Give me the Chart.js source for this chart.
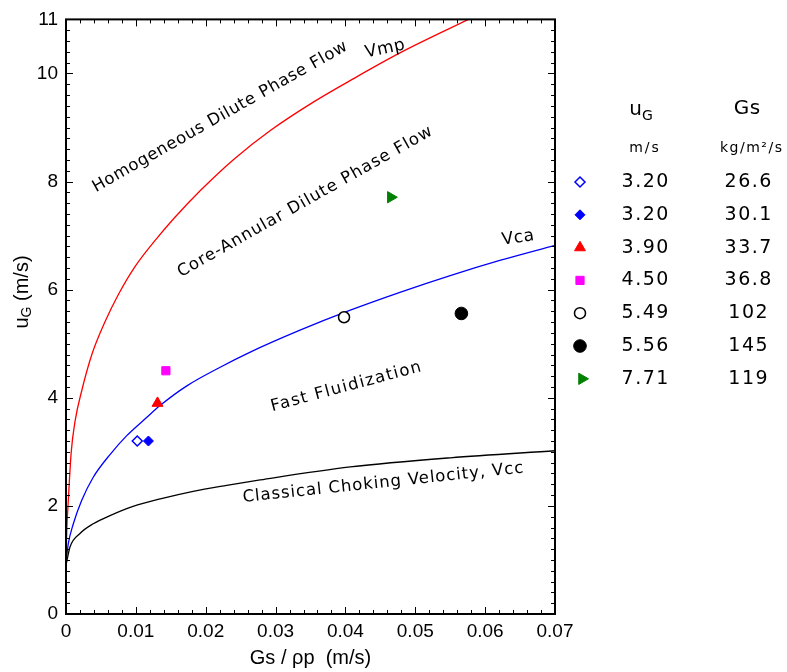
<!DOCTYPE html>
<html>
<head>
<meta charset="utf-8">
<script src="https://cdn.jsdelivr.net/npm/chart.js@4.4.1/dist/chart.umd.min.js"></script>
<style>
  html, body { margin: 0; padding: 0; background: #fff; }
  #wrap { width: 787px; height: 672px; position: relative; }
</style>
</head>
<body>
<div id="wrap"><canvas id="myChart"></canvas></div>
<script>
// boundary curves (x = Gs/rho_p, y = uG)
const vmpX = [0, 0.0001, 0.00033, 0.00075, 0.0013, 0.00225, 0.0037, 0.0056, 0.0075, 0.0099, 0.013, 0.0156, 0.0192, 0.024, 0.0292, 0.0354, 0.0411, 0.0478, 0.0576];
const vmpY = [0.9, 1.5, 2.1, 3.0, 3.57, 4.13, 4.80, 5.41, 5.91, 6.43, 6.95, 7.34, 7.83, 8.41, 8.94, 9.47, 9.90, 10.38, 11.0];

const vcaX = [0, 0.00033, 0.00105, 0.00224, 0.0039, 0.0063, 0.0087, 0.0115, 0.0135, 0.0173, 0.022, 0.0263, 0.0335, 0.0407, 0.0478, 0.055, 0.0621, 0.07];
const vcaY = [0.95, 1.30, 1.67, 2.10, 2.53, 2.95, 3.30, 3.63, 3.86, 4.22, 4.56, 4.84, 5.25, 5.62, 5.95, 6.26, 6.54, 6.82];

const vccX = [0, 0.00057, 0.002, 0.0039, 0.0063, 0.0096, 0.0135, 0.0182, 0.023, 0.0278, 0.0407, 0.055, 0.07];
const vccY = [0.9, 1.24, 1.49, 1.67, 1.82, 1.99, 2.13, 2.27, 2.38, 2.48, 2.72, 2.89, 3.02];

// experimental points
const pointX = [0.0102, 0.0118, 0.0131, 0.0143, 0.0398, 0.0566, 0.0465];
const pointY = [3.20, 3.20, 3.90, 4.50, 5.49, 5.56, 7.71];
const ugLabels = ['3.20', '3.20', '3.90', '4.50', '5.49', '5.56', '7.71'];
const gsLabels = ['26.6', '30.1', '33.7', '36.8', '102', '145', '119'];

const xTicks = [0, 0.01, 0.02, 0.03, 0.04, 0.05, 0.06, 0.07];
const xTickLabels = ['0', '0.01', '0.02', '0.03', '0.04', '0.05', '0.06', '0.07'];
const yTicks = [0, 2, 4, 6, 8, 10, 11];
const yTickLabels = ['0', '2', '4', '6', '8', '10', '11'];

// marker look for each point, same order as pointX
const markers = [
  { style: 'rectRot', color: '#0000ff', open: true, radius: 5 },
  { style: 'rectRot', color: '#0000ff', open: false, radius: 5 },
  { style: 'triangle', color: '#ff0000', open: false, radius: 6.3 },
  { style: 'rect', color: '#ff00ff', open: false, radius: 5.8 },
  { style: 'circle', color: '#000000', open: true, radius: 5.5 },
  { style: 'circle', color: '#000000', open: false, radius: 6.3 },
  { style: 'triangle', color: '#008000', open: false, radius: 6.5, rotation: 90 }
];

const regionLabels = [
  { text: 'Homogeneous Dilute Phase Flow', x: 220, y: 117, angle: -29.5, size: 16.5, length: 290 },
  { text: 'Core-Annular Dilute Phase Flow', x: 305, y: 202, angle: -29.5, size: 16.5, length: 290 },
  { text: 'Vmp', x: 385, y: 49, angle: -12, size: 17 },
  { text: 'Vca', x: 518, y: 238, angle: -8, size: 17 },
  { text: 'Fast Fluidization', x: 346, y: 387, angle: -15, size: 16.5, length: 155 },
  { text: 'Classical Choking Velocity, Vcc', x: 383, y: 483, angle: -6, size: 16.5, length: 282 }
];

const toXY = (xs, ys) => xs.map((x, i) => ({ x: x, y: ys[i] }));

const pointSets = markers.map((m, i) => ({
  data: [{ x: pointX[i], y: pointY[i] }],
  pointStyle: m.style,
  pointRotation: m.rotation || 0,
  pointRadius: m.radius,
  pointHoverRadius: m.radius,
  pointBackgroundColor: m.open ? '#ffffff' : m.color,
  pointBorderColor: m.color,
  pointBorderWidth: m.open ? 1.5 : 1,
  order: 0
}));

function curve(xs, ys, color) {
  return {
    data: toXY(xs, ys),
    showLine: true,
    borderColor: color,
    borderWidth: 1.3,
    pointRadius: 0,
    cubicInterpolationMode: 'monotone',
    fill: false,
    order: 1
  };
}

function drawMarker(ctx, m, x, y) {
  ctx.save();
  ctx.fillStyle = m.open ? '#ffffff' : m.color;
  ctx.strokeStyle = m.color;
  ctx.lineWidth = m.open ? 1.5 : 1;
  Chart.helpers.drawPoint(ctx, {
    pointStyle: m.style, rotation: m.rotation || 0, radius: m.radius, borderWidth: ctx.lineWidth
  }, x, y);
  ctx.restore();
}

function drawSpaced(ctx, text, cx, cy, spacing) {
  ctx.letterSpacing = spacing + 'px';
  const w = ctx.measureText(text).width - spacing;
  ctx.textAlign = 'left';
  ctx.fillText(text, cx - w / 2, cy);
  ctx.letterSpacing = '0px';
}

const framePlugin = {
  id: 'frame',
  afterDatasetsDraw(chart) {
    const ctx = chart.ctx;
    const a = chart.chartArea;
    const xs = chart.scales.x, ys = chart.scales.y;
    ctx.save();
    ctx.strokeStyle = '#000';
    ctx.lineWidth = 1;
    ctx.beginPath();
    for (let k = 0; k <= 35; k++) {
      const px = Math.round(xs.getPixelForValue(k * 0.002)) + 0.5;
      const len = k % 5 === 0 ? 7 : 4;
      ctx.moveTo(px, a.bottom); ctx.lineTo(px, a.bottom - len);
      ctx.moveTo(px, a.top); ctx.lineTo(px, a.top + len);
    }
    for (let k = 0; k <= 55; k++) {
      const py = Math.round(ys.getPixelForValue(k * 0.2)) + 0.5;
      const len = k % 10 === 0 ? 7 : 4;
      ctx.moveTo(a.left, py); ctx.lineTo(a.left + len, py);
      ctx.moveTo(a.right, py); ctx.lineTo(a.right - len, py);
    }
    ctx.stroke();
    ctx.lineWidth = 2;
    ctx.strokeRect(a.left, a.top, a.right - a.left, a.bottom - a.top);
    ctx.restore();
  }
};

const textPlugin = {
  id: 'texts',
  afterDraw(chart) {
    const ctx = chart.ctx;
    ctx.save();
    ctx.fillStyle = '#000';
    ctx.textBaseline = 'middle';

    // region names along the curves
    regionLabels.forEach(l => {
      ctx.save();
      ctx.font = l.size + 'px "DejaVu Sans"';
      let spacing = 0.5;
      if (l.length) {
        const w0 = ctx.measureText(l.text).width;
        spacing = (l.length - w0) / (l.text.length - 1);
      }
      ctx.translate(l.x, l.y);
      ctx.rotate(l.angle * Math.PI / 180);
      drawSpaced(ctx, l.text, 0, 0, spacing);
      ctx.restore();
    });

    // y axis title with subscript
    ctx.save();
    ctx.translate(22, 292);
    ctx.rotate(-Math.PI / 2);
    ctx.textAlign = 'left';
    const big = '20px "Liberation Sans"', small = '14px "Liberation Sans"';
    ctx.font = big; const wu = ctx.measureText('u').width;
    ctx.font = small; const wg = ctx.measureText('G').width;
    ctx.font = big; const wr = ctx.measureText(' (m/s)').width;
    let sx = -(wu + wg + wr) / 2;
    ctx.font = big; ctx.fillText('u', sx, 0); sx += wu;
    ctx.font = small; ctx.fillText('G', sx, 5); sx += wg;
    ctx.font = big; ctx.fillText(' (m/s)', sx, 0);
    ctx.restore();

    // table legend on the right
    ctx.font = '20px "DejaVu Sans"';
    const wU = ctx.measureText('u').width;
    ctx.font = '14px "DejaVu Sans"';
    const wG = ctx.measureText('G').width;
    ctx.textAlign = 'left';
    ctx.font = '20px "DejaVu Sans"';
    ctx.fillText('u', 641 - (wU + wG) / 2, 110);
    ctx.font = '14px "DejaVu Sans"';
    ctx.fillText('G', 641 - (wU + wG) / 2 + wU, 116);
    ctx.font = '20px "DejaVu Sans"';
    drawSpaced(ctx, 'Gs', 747, 109, 0.5);
    ctx.font = '14px "DejaVu Sans"';
    drawSpaced(ctx, 'm/s', 644, 148, 2);
    drawSpaced(ctx, 'kg/m²/s', 751, 148, 1.5);

    ctx.font = '19px "DejaVu Sans"';
    markers.forEach((m, i) => {
      const ry = 182 + i * 32.8;
      drawMarker(ctx, m, m.rotation ? 582 : 580, ry);
      ctx.fillStyle = '#000';
      drawSpaced(ctx, ugLabels[i], 645, ry, 1.5);
      drawSpaced(ctx, gsLabels[i], 748, ry, 1.5);
    });
    ctx.restore();
  }
};

const ctx = document.getElementById('myChart');

new Chart(ctx, {
  type: 'scatter',
  data: {
    datasets: [
      ...pointSets,
      curve(vmpX, vmpY, '#ff0000'),
      curve(vcaX, vcaY, '#0000ff'),
      curve(vccX, vccY, '#000000')
    ]
  },
  options: {
    responsive: true,
    maintainAspectRatio: false,
    animation: false,
    layout: { padding: { top: 16, right: 232, left: 0, bottom: 0 } },
    plugins: {
      legend: { display: false },
      tooltip: { enabled: false }
    },
    scales: {
      x: {
        type: 'linear',
        min: 0,
        max: 0.07,
        afterBuildTicks: s => { s.ticks = xTicks.map(v => ({ value: v })); },
        afterFit: s => { s.height = 58; },
        grid: { display: false, drawTicks: false },
        border: { display: false },
        ticks: {
          color: '#000',
          padding: 6,
          maxRotation: 0,
          autoSkip: false,
          font: { family: 'Liberation Sans', size: 19 },
          callback: (v, i) => xTickLabels[i]
        },
        title: {
          display: true,
          text: 'Gs / ρp  (m/s)',
          color: '#000',
          font: { family: 'Liberation Sans', size: 20 },
          padding: { top: 0, bottom: 2 }
        }
      },
      y: {
        type: 'linear',
        min: 0,
        max: 11,
        afterBuildTicks: s => { s.ticks = yTicks.map(v => ({ value: v })); },
        afterFit: s => { s.width = 66; },
        grid: { display: false, drawTicks: false },
        border: { display: false },
        ticks: {
          color: '#000',
          padding: 8,
          autoSkip: false,
          font: { family: 'Liberation Sans', size: 19 },
          callback: (v, i) => yTickLabels[i]
        }
      }
    }
  },
  plugins: [framePlugin, textPlugin]
});
</script>
</body>
</html>
